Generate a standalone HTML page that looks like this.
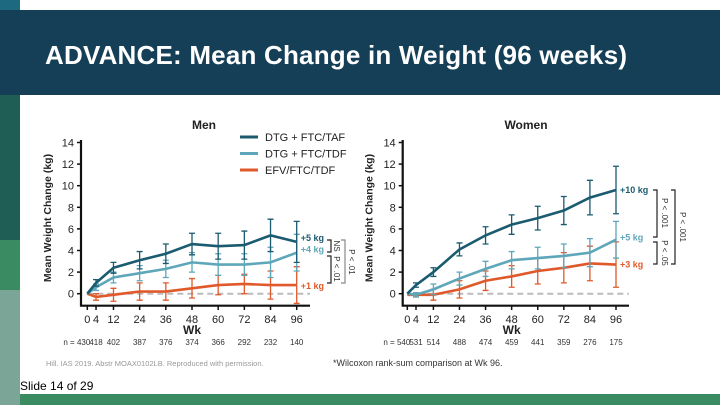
<!DOCTYPE html>
<html><head><meta charset="utf-8"><style>
html,body{margin:0;padding:0;background:#fff}
body{width:720px;height:405px;position:relative;overflow:hidden;font-family:"Liberation Sans",sans-serif}
.abs{position:absolute}
</style></head><body>
<div class="abs" style="left:0;top:0;width:20px;height:10px;background:#1d6a80"></div>
<div class="abs" style="left:0;top:10px;width:720px;height:85px;background:#153f56"></div>
<div class="abs" style="left:45px;top:40px;color:#fff;font-size:26px;line-height:30px;font-weight:bold;letter-spacing:0.2px">ADVANCE: Mean Change in Weight (96 weeks)</div>
<div class="abs" style="left:0;top:95px;width:20px;height:145px;background:#1e5e55"></div>
<div class="abs" style="left:0;top:240px;width:20px;height:50px;background:#3a8a62"></div>
<div class="abs" style="left:0;top:290px;width:20px;height:115px;background:#7ba596"></div>
<div class="abs" style="left:20px;top:394px;width:700px;height:11px;background:#3a8a62"></div>
<div class="abs" style="left:20px;top:379px;font-size:12px;color:#000">Slide 14 of 29</div>
<svg class="abs" id="chart" style="left:0;top:0" width="720" height="405" xmlns="http://www.w3.org/2000/svg"></svg>
<script>
const weeks=[0,4,12,24,36,48,60,72,84,96];
const yTicks=[0,2,4,6,8,10,12,14];
const menTAF=[0,1.0,2.4,3.1,3.7,4.6,4.4,4.5,5.4,4.8];
const menTAFerr=[0,0.3,0.5,0.8,0.9,1.0,1.2,1.3,1.5,1.9];
const menTDF=[0,0.6,1.5,1.9,2.3,2.9,2.7,2.7,2.9,3.8];
const menTDFerr=[0,0.3,0.5,0.7,0.8,0.9,1.0,1.0,1.4,1.7];
const menEFV=[0,-0.3,-0.1,0.2,0.2,0.5,0.8,0.9,0.8,0.8];
const menEFVerr=[0,0.3,0.6,0.8,0.8,0.9,0.9,0.9,1.3,1.7];
const wTAF=[0,0.8,2.0,4.1,5.4,6.4,7.0,7.7,8.9,9.6];
const wTAFerr=[0,0.2,0.4,0.6,0.8,0.9,1.1,1.3,1.6,2.2];
const wTDF=[0,-0.1,0.4,1.4,2.3,3.1,3.3,3.5,3.8,5.0];
const wTDFerr=[0,0.2,0.5,0.6,0.7,0.8,1.0,1.1,1.3,1.7];
const wEFV=[-0.1,-0.1,-0.1,0.4,1.2,1.6,2.1,2.4,2.8,2.7];
const wEFVerr=[0,0.2,0.5,0.8,0.9,1.0,1.2,1.4,1.6,2.1];
const menN=["n = 430","418","402","387","376","374","366","292","232","140"];
const wN=["n = 540","531","514","488","474","459","441","359","276","175"];
const svg=document.getElementById('chart');
const NS="http://www.w3.org/2000/svg";
function mk(tag,at,txt){const e=document.createElementNS(NS,tag);for(const k in at)e.setAttribute(k,at[k]);if(txt!==undefined)e.textContent=txt;svg.appendChild(e);return e;}
const C={taf:"#1b5b6f",tdf:"#5ea6b9",efv:"#e0592b"};
function panel(p){
  const X=w=>p.x0+w*(p.x96-p.x0)/96, Y=v=>293.7-v*10.8;
  let t=mk('text',{x:p.tx,y:129,'font-size':12,'font-weight':'bold','text-anchor':'middle',fill:'#222'},p.title);
  
  let ax=mk('path',{d:`M${p.ax},140 V${305.7} H${p.xe}`,stroke:'#111','stroke-width':2.2,fill:'none'});
  
  yTicks.forEach(v=>{mk('line',{x1:p.ax-4,x2:p.ax,y1:Y(v),y2:Y(v),stroke:'#111','stroke-width':1.5});
    let l=mk('text',{x:p.ax-7,y:Y(v)+4,'font-size':11,'text-anchor':'end',fill:'#222'},v);
    });
  weeks.forEach((w,i)=>{mk('line',{x1:X(w),x2:X(w),y1:305.7,y2:310,stroke:'#111','stroke-width':1.5});
    let l=mk('text',{x:X(w),y:323,'font-size':11,'text-anchor':'middle',fill:'#222'},w);
    
    let n=mk('text',{x:i==0?X(w)+3:X(w),y:345,'font-size':8,'text-anchor':i==0?'end':'middle',fill:'#333'},p.n[i]);
    });
  let wk=mk('text',{x:X(48),y:334,'font-size':12,'font-weight':'bold','text-anchor':'middle',fill:'#222'},'Wk');
  
  let yt=mk('text',{x:0,y:0,'font-size':10.5,'font-weight':'bold','text-anchor':'middle',fill:'#222',transform:`translate(${p.ax-30},218) rotate(-90)`},'Mean Weight Change (kg)');
  
  mk('line',{x1:X(0),x2:p.xe,y1:Y(0),y2:Y(0),stroke:'#bbb','stroke-width':2,'stroke-dasharray':'6,4'});
  p.series.forEach(s=>{
    s.v.forEach((v,i)=>{if(!s.e[i])return;const x=X(weeks[i]);
      mk('path',{d:`M${x},${Y(v-s.e[i])} V${Y(v+s.e[i])} M${x-3},${Y(v-s.e[i])} h6 M${x-3},${Y(v+s.e[i])} h6`,stroke:s.c,'stroke-width':1.3,fill:'none'});});
    let ln=mk('polyline',{points:s.v.map((v,i)=>X(weeks[i])+','+Y(v)).join(' '),stroke:s.c,'stroke-width':2.6,fill:'none'});
    
    let lb=mk('text',{x:X(96)+4,y:Y(s.v[9])+s.dy,'font-size':9,'font-weight':'bold',fill:s.c},s.lab);
    
  });
}
panel({id:'men',title:'Men',tx:204,ax:81,xe:310,x0:87.3,x96:296.7,n:menN,series:[
 {k:'efv',v:menEFV,e:menEFVerr,c:C.efv,lab:'+1 kg',dy:4},
 {k:'tdf',v:menTDF,e:menTDFerr,c:C.tdf,lab:'+4 kg',dy:0},
 {k:'taf',v:menTAF,e:menTAFerr,c:C.taf,lab:'+5 kg',dy:-1}]});
panel({id:'women',title:'Women',tx:526,ax:402.7,xe:629,x0:407.3,x96:616,n:wN,series:[
 {k:'efv',v:wEFV,e:wEFVerr,c:C.efv,lab:'+3 kg',dy:3},
 {k:'tdf',v:wTDF,e:wTDFerr,c:C.tdf,lab:'+5 kg',dy:1},
 {k:'taf',v:wTAF,e:wTAFerr,c:C.taf,lab:'+10 kg',dy:3}]});
[["DTG + FTC/TAF",C.taf],["DTG + FTC/TDF",C.tdf],["EFV/FTC/TDF",C.efv]].forEach((d,i)=>{
  const y=137+i*16.5;
  mk('line',{x1:240,x2:258,y1:y,y2:y,stroke:d[1],'stroke-width':3});
  let t=mk('text',{x:265,y:y+4,'font-size':11,fill:'#222'},d[0]);
  
});
function br(x,y1,y2,w,col){mk('path',{d:`M${x-w},${y1} H${x} V${y2} H${x-w}`,stroke:col,'stroke-width':1.2,fill:'none'});}
function rt(x,y,s){let t=mk('text',{x:0,y:0,'font-size':8,'text-anchor':'middle',fill:'#333',transform:`translate(${x},${y}) rotate(90)`},s);}
br(331,240,252,4,'#222');rt(334,246,'NS');
br(331,256,283,4,'#222');rt(334,269,'P < .01');
br(345,240,283,4,'#888');rt(349,262,'P < .01');
br(657,190,237,4,'#222');rt(662,213,'P < .001');
br(657,242,264,4,'#222');rt(662,253,'P < .05');
br(675,190,264,4,'#222');rt(680,227,'P < .001');
let f1=mk('text',{x:46,y:366,'font-size':7.5,fill:'#999'},'Hill. IAS 2019. Abstr MOAX0102LB. Reproduced with permission.');

let f2=mk('text',{x:333,y:366,'font-size':9,fill:'#333'},'*Wilcoxon rank-sum comparison at Wk 96.');

</script>
</body></html>
